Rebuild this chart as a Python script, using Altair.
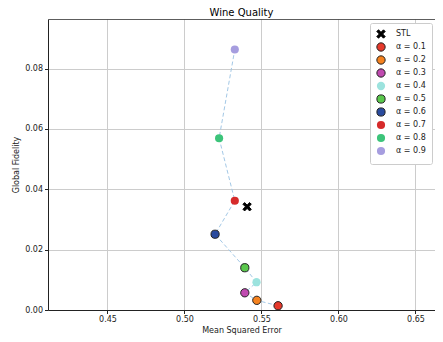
import altair as alt
import pandas as pd

labels = ["STL", "α = 0.1", "α = 0.2", "α = 0.3", "α = 0.4", "α = 0.5",
          "α = 0.6", "α = 0.7", "α = 0.8", "α = 0.9"]
mse = [0.5407, 0.5608, 0.5470, 0.5392, 0.5468, 0.5392, 0.5199, 0.5327, 0.5225, 0.5327]
fidelity = [0.0342, 0.0014, 0.0032, 0.0057, 0.0092, 0.0140, 0.0251, 0.0362, 0.0569, 0.0863]
colors = ["#000000", "#e6392b", "#f5821f", "#c04ab0", "#9ce3de", "#5ac84c",
          "#2a4b9e", "#d62b2b", "#3cc47a", "#a69ddf"]
sizes = [70, 66, 66, 66, 25, 66, 66, 25, 25, 25]
strokes = ["#000000", "#222222", "#222222", "#222222", "transparent", "#222222",
           "#222222", "transparent", "transparent", "transparent"]
xshape = "M-1,-0.6L-0.6,-1L0,-0.4L0.6,-1L1,-0.6L0.4,0L1,0.6L0.6,1L0,0.4L-0.6,1L-1,0.6L-0.4,0Z"
shapes = [xshape] + ["circle"] * 9
x_ticks = [0.45, 0.50, 0.55, 0.60, 0.65]
y_ticks = [0.00, 0.02, 0.04, 0.06, 0.08]

df = pd.DataFrame({"label": labels, "mse": mse, "fid": fidelity,
                   "order": list(range(len(labels)))})

xs = alt.Scale(domain=[0.4114, 0.6627], nice=False, zero=False)
ys = alt.Scale(domain=[0, 0.0964], nice=False, zero=False)

x_bottom = alt.X("mse:Q", scale=xs, title="Mean Squared Error",
                 axis=alt.Axis(values=x_ticks, format=".2f", grid=True,
                               gridColor="#cccccc", gridWidth=1))
x_top = alt.X("mse:Q", scale=xs, title=None,
              axis=alt.Axis(orient="top", values=x_ticks, labels=False, ticks=False,
                            grid=False, domainColor="#333333", domainWidth=0.8))
yenc = alt.Y("fid:Q", scale=ys, title="Global Fidelity",
             axis=alt.Axis(values=y_ticks, format=".2f", grid=True))

line = alt.Chart(df[df["label"] != "STL"]).mark_line(
    color="#a3c8e6", strokeDash=[4, 2.5], strokeWidth=1
).encode(x=x_top, y=yenc, order="order:Q")

legend = alt.Legend(title=None, orient="none", legendX=322, legendY=4,
                    fillColor="white", strokeColor="#cccccc", cornerRadius=2,
                    padding=6, labelFontSize=8, labelFont="DejaVu Sans",
                    labelColor="#222222", rowPadding=-1, labelOffset=10,
                    symbolStrokeWidth=1)

pts = alt.Chart(df).mark_point(filled=True, opacity=1, strokeWidth=1).encode(
    x=x_bottom, y=yenc,
    color=alt.Color("label:N", scale=alt.Scale(domain=labels, range=colors), legend=legend),
    size=alt.Size("label:N", scale=alt.Scale(domain=labels, range=sizes), legend=legend),
    shape=alt.Shape("label:N", scale=alt.Scale(domain=labels, range=shapes), legend=legend),
    stroke=alt.Stroke("label:N", scale=alt.Scale(domain=labels, range=strokes), legend=legend),
)

chart = alt.layer(line, pts).resolve_axis(x="independent").properties(
    width=387, height=291,
    title=alt.TitleParams("Wine Quality", fontSize=10, font="DejaVu Sans",
                          fontWeight="normal", offset=1),
    autosize=alt.AutoSizeParams(type="none"),
    padding={"left": 40, "top": 11, "right": 0, "bottom": 32},
).configure_view(stroke=None).configure_axis(
    labelFont="DejaVu Sans", titleFont="DejaVu Sans", labelFontSize=8,
    titleFontSize=8, titleFontWeight="normal", labelColor="#222222",
    titleColor="#222222", gridColor="#cccccc", gridWidth=1,
    domainColor="#222222", tickColor="#222222", tickSize=3.5,
    labelPadding=2, titlePadding=3
).configure_axisY(titlePadding=4)

chart.save("out.html", embed_options={"renderer": "svg", "actions": False})
